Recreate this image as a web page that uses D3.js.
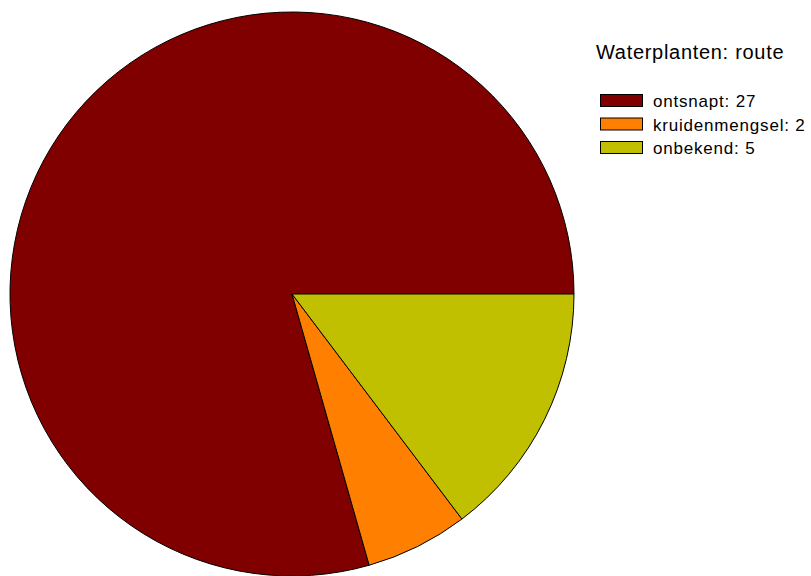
<!DOCTYPE html>
<html>
<head>
<meta charset="utf-8">
<script src="https://cdn.jsdelivr.net/npm/d3@7"></script>
<style>
  html, body { margin: 0; padding: 0; background: #ffffff; }
  svg { display: block; font-family: "Liberation Sans", Arial, sans-serif; }
</style>
</head>
<body>
<svg id="chart" width="811" height="576"></svg>
<script>
// Route by which water plants arrived
const categories = ["ontsnapt", "kruidenmengsel", "onbekend"];
const counts = [27, 2, 5];
const colors = ["#800000", "#ff8000", "#c0c000"];
const title = "Waterplanten: route";

const svg = d3.select("#chart");
const cx = 292, cy = 294, radius = 282;

// Slices run counter-clockwise starting at three o'clock
const pie = d3.pie()
  .sort(null)
  .value(d => d.value)
  .startAngle(Math.PI / 2)
  .endAngle(Math.PI / 2 - 2 * Math.PI);

const data = categories.map((c, i) => ({ name: c, value: counts[i], color: colors[i] }));
const arc = d3.arc().innerRadius(0).outerRadius(radius);

svg.append("g")
  .attr("transform", `translate(${cx},${cy})`)
  .selectAll("path")
  .data(pie(data))
  .join("path")
  .attr("d", arc)
  .attr("fill", d => d.data.color)
  .attr("stroke", "#000")
  .attr("stroke-width", 1)
  .attr("stroke-linejoin", "round");

// Legend
const legend = svg.append("g");
legend.append("text")
  .attr("x", 596)
  .attr("y", 59)
  .attr("font-size", 20)
  .attr("letter-spacing", 0.7)
  .attr("fill", "#000")
  .text(title);

const rowY = d3.scalePoint().domain(categories).range([101, 148]);
const rows = legend.selectAll("g.row")
  .data(data)
  .join("g")
  .attr("class", "row")
  .attr("transform", d => `translate(0,${rowY(d.name)})`);

rows.append("rect")
  .attr("x", 600.5)
  .attr("y", -6.5)
  .attr("width", 42)
  .attr("height", 12)
  .attr("fill", d => d.color)
  .attr("stroke", "#000")
  .attr("stroke-width", 1);

rows.append("text")
  .attr("x", 653)
  .attr("y", 6)
  .attr("font-size", 17)
  .attr("letter-spacing", 0.8)
  .attr("fill", "#000")
  .text(d => `${d.name}: ${d.value}`);
</script>
</body>
</html>
